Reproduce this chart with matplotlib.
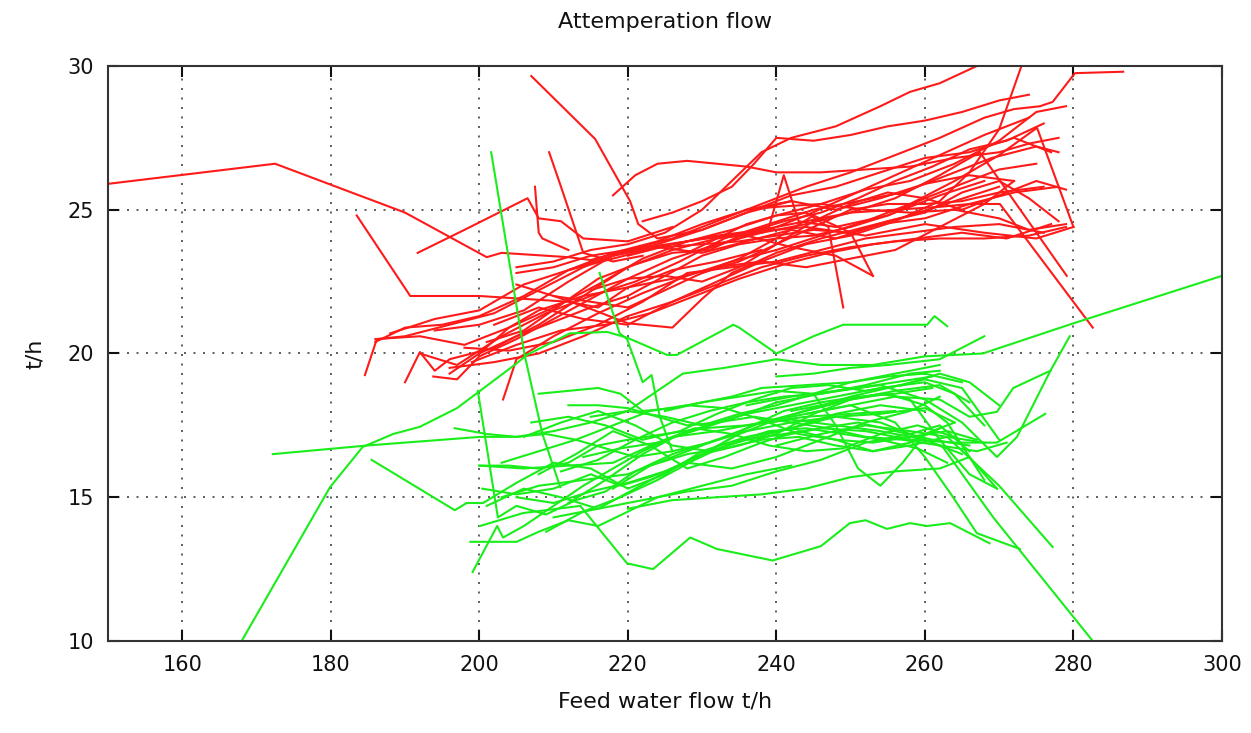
import matplotlib
matplotlib.use("Agg")
import matplotlib.pyplot as plt

# ---- data: attemperation flow vs feed water flow (t/h), one list per run ----
red_x = [
    [150, 172.5, 190, 201, 203, 212, 215, 220, 228, 236, 244, 252, 260, 268, 275, 280],
    [207, 215.6, 220.3, 221.4, 224, 230, 236, 242],
    [183.5, 190.7, 200, 206, 212, 216, 220, 226, 232, 238],
    [191.7, 198, 206.5, 208, 211, 214, 220, 226],
    [209.4, 211, 214, 218, 222],
    [207.5, 208, 208.5, 212],
    [186, 192, 198, 204, 210, 216, 222, 228, 234, 240, 246, 252, 258, 264, 270, 275, 279],
    [190, 192, 194, 196, 202, 208, 214, 220, 226, 232, 238, 244, 250, 256, 262, 268, 274],
    [192, 197, 203, 209, 215, 221, 227, 233, 239, 245, 251, 257, 263, 269, 275, 278],
    [194, 200, 206, 212, 218, 224, 230, 236, 242, 248, 254, 260, 266, 272, 277],
    [218, 221, 224, 228, 232, 236, 240, 246, 252, 258, 264, 270, 274, 278],
    [205, 210, 215, 220, 225, 230, 234, 238, 242, 248, 254, 258, 262, 267],
    [222, 226, 230, 234, 237, 240, 245, 250, 255, 260, 265, 270, 274],
    [196, 202, 208, 214, 220, 226, 232, 238, 244, 250, 256, 262, 268, 274, 279],
    [199, 205, 211, 217, 223, 229, 235, 241, 247, 253, 259, 265, 271, 277],
    [188, 194, 200, 206, 212, 218, 224, 230, 236, 242, 248, 254, 260, 266, 272, 278],
    [200, 205, 210, 215, 220, 225, 230, 235, 240, 245, 250, 255, 260, 265, 270, 275],
    [202, 208, 214, 220, 226, 232, 238, 244, 250, 256, 262, 266, 270, 273],
    [205, 210, 215, 220, 225, 230, 235, 240, 245, 250, 255, 260, 265, 270, 274, 278],
    [210, 215, 220, 225, 230, 235, 240, 245, 250, 255, 260, 265, 270, 276],
    [198, 204, 210, 216, 222, 228, 234, 240, 246, 252, 258, 264, 270, 276],
    [215, 220, 225, 230, 235, 240, 245, 250, 255, 260, 265, 270, 275, 279],
    [205, 210, 214.5, 220, 226, 230, 234, 240, 246, 252, 258, 264, 270],
    [196, 200, 204, 208, 214, 220, 226, 232, 238, 244, 250, 256, 262, 268, 272],
    [228, 232, 236, 240, 244, 247, 249],
    [230, 235, 240, 245, 250, 253],
    [236, 240, 246, 252, 258, 264, 270, 274, 279],
    [230, 235, 239, 241, 243, 248, 255, 262, 268],
    [184.6, 186.2, 190, 196, 202, 208, 214, 220, 226, 232, 238, 244, 250, 256, 262, 268, 272, 275.5, 277.2, 280.2, 286.7],
    [193.8, 197, 200, 205, 210, 215, 220, 226, 232, 238, 244, 250, 256, 262, 267.4, 279.1],
    [203.2, 205, 210, 216, 222, 228, 234, 240, 246, 252, 258, 264, 270, 275.1, 280],
    [220, 226, 232, 238, 244, 250, 256, 262, 266, 270.1, 282.6],
    [212, 218, 224, 230, 236, 242, 248, 253],
    [186, 190, 195, 200, 206, 212, 218, 224, 230, 236, 242, 248, 254, 260, 266, 272],
    [201, 206, 211, 216, 221, 226, 231, 236, 241, 246, 251, 256, 261, 266, 271, 276],
]
red_y = [
    [25.9, 26.6, 24.9, 23.35, 23.5, 23.35, 23.25, 23.6, 23.9, 24.2, 24.4, 24.1, 24.5, 24.2, 24.0, 24.4],
    [29.65, 27.46, 25.3, 24.5, 24.0, 24.3, 24.9, 25.3],
    [24.8, 22.0, 22.0, 21.9, 21.8, 21.6, 22.3, 22.9, 23.2, 23.6],
    [23.5, 24.3, 25.4, 24.7, 24.6, 24.0, 23.9, 24.4],
    [27.0, 25.8, 23.5, 23.2, 23.4],
    [25.8, 24.2, 24.0, 23.6],
    [20.5, 20.6, 20.3, 20.9, 21.6, 22.4, 23.3, 23.9, 24.3, 24.8, 25.2, 25.7, 26.0, 26.6, 27.4, 28.4, 28.6],
    [19.0, 20.05, 19.4, 19.8, 20.2, 21.0, 22.0, 23.0, 23.6, 24.0, 24.2, 24.8, 25.5, 26.2, 26.9, 27.6, 28.2],
    [20.0, 19.6, 20.6, 21.4, 22.0, 22.5, 23.2, 24.0, 24.5, 25.0, 25.3, 25.6, 26.2, 26.8, 27.2, 27.0],
    [20.8, 21.0, 21.5, 22.5, 23.4, 23.8, 24.3, 24.9, 25.5, 25.8, 26.3, 26.8, 27.0, 27.5, 27.0],
    [25.5, 26.2, 26.6, 26.7, 26.6, 26.5, 26.3, 26.3, 26.4, 26.5, 26.8, 27.0, 27.3, 27.5],
    [23.0, 23.2, 23.6, 23.8, 24.2, 25.0, 26.0, 27.0, 27.5, 27.9, 28.6, 29.1, 29.4, 30.0],
    [24.6, 24.9, 25.3, 25.8, 26.6, 27.5, 27.4, 27.6, 27.9, 28.1, 28.4, 28.8, 29.0],
    [19.5, 19.7, 20.0, 20.6, 21.3, 21.8, 22.4, 23.0, 23.4, 23.7, 23.9, 24.0, 24.0, 24.1, 24.4],
    [19.7, 20.3, 20.8, 21.0, 21.4, 22.0, 22.6, 23.1, 23.5, 23.8, 24.0, 24.2, 24.0, 24.5],
    [20.7, 21.2, 21.5, 22.4, 22.9, 23.4, 23.7, 23.5, 23.9, 24.3, 24.0, 24.5, 24.7, 25.2, 25.6, 25.8],
    [20.0, 20.6, 21.1, 21.6, 22.0, 22.7, 23.4, 23.8, 24.0, 24.1, 24.4, 24.8, 25.4, 25.9, 26.4, 26.6],
    [21.0, 21.6, 21.2, 21.0, 21.8, 22.5, 23.2, 23.8, 24.1, 24.6, 25.3, 26.3, 27.8, 30.0],
    [22.8, 23.0, 23.4, 23.6, 23.7, 23.8, 23.9, 24.1, 24.3, 24.2, 24.6, 24.9, 25.6, 26.0, 25.4, 24.6],
    [22.0, 21.8, 21.6, 22.2, 22.8, 23.2, 23.8, 24.4, 25.0, 25.2, 25.2, 25.3, 25.6, 25.8],
    [20.2, 20.1, 20.4, 21.0, 21.8, 22.8, 23.0, 23.2, 23.6, 24.0, 24.2, 24.4, 24.5, 24.2],
    [22.2, 22.6, 22.7, 22.5, 23.0, 23.8, 24.6, 25.2, 25.6, 25.4, 25.0, 25.5, 26.0, 25.7],
    [22.4, 22.0, 21.6, 21.05, 20.9, 21.9, 22.8, 23.5, 24.0, 24.4, 24.8, 25.3, 25.8],
    [19.3, 20.0, 20.9, 21.5, 22.0, 22.3, 22.6, 23.0, 23.2, 23.0, 23.3, 23.6, 24.4, 25.2, 26.0],
    [23.5, 24.0, 24.5, 24.8, 24.9, 24.4, 21.6],
    [22.8, 23.3, 24.0, 24.8, 24.2, 22.7],
    [25.0, 25.1, 25.2, 25.0, 24.9, 25.0, 24.7, 24.3, 24.5],
    [23.6, 24.0, 24.4, 26.2, 24.6, 24.4, 24.8, 25.5, 26.0],
    [19.25, 20.5, 20.6, 21.0, 21.4, 22.2, 23.0, 23.6, 24.0, 24.6, 25.2, 25.8, 26.3, 26.9, 27.5, 28.2, 28.5, 28.6, 28.75, 29.75, 29.8],
    [19.2, 19.1, 19.9, 20.5, 21.2, 21.9, 22.6, 23.3, 23.8, 24.2, 24.5, 24.9, 25.4, 26.2, 27.0, 22.7],
    [18.4, 19.8, 20.6, 21.4, 22.1, 22.7, 23.2, 23.6, 24.1, 24.6, 25.2, 26.0, 26.9, 27.85, 24.4],
    [23.4, 23.8, 24.1, 24.3, 24.6, 24.9, 25.0, 25.1, 25.2, 25.2, 20.9],
    [22.9, 23.3, 23.7, 24.0, 24.1, 23.7, 23.4, 22.7],
    [20.4, 20.9, 21.0, 21.3, 22.0, 22.9, 23.5, 23.9, 24.5, 25.0, 25.3, 25.0, 25.4, 25.9, 26.2, 26.0],
    [20.4, 20.8, 21.7, 22.6, 23.1, 23.5, 23.6, 24.2, 24.6, 24.9, 25.4, 26.0, 26.5, 27.1, 27.4, 28.0],
]

green_x = [
    [168, 179.9, 184.3, 188.4, 192, 197, 200.1, 205, 206.4, 212.2, 217.2, 219.9, 225.3, 226.6, 234.2, 235, 240, 245, 249, 256.7, 260.3, 261.3, 263],
    [172.2, 184.9, 200.1, 205, 210, 215, 220, 227.4, 233, 240, 246, 253, 260, 267.8, 280, 300],
    [201.6, 206.1, 208.5, 210.9],
    [216.2, 218.9, 219.9, 222.0, 223.2, 224.3, 226],
    [199.8, 202.5, 205, 209, 213, 217, 221, 226, 232],
    [185.5, 196.7, 198.3, 200.5, 205, 210, 215, 220, 225, 230, 236, 242, 248, 254, 260],
    [199.1, 202.4, 203.2, 206, 210, 214, 218, 222, 226, 232, 238, 244, 250, 256],
    [198.8, 205, 208, 212, 216, 220, 224, 230, 236, 242],
    [196.7, 201, 205, 209, 213, 217, 221, 226, 231, 236, 242, 248, 254, 260, 264],
    [200, 204, 208, 212, 216, 220, 225, 230, 236, 242, 248, 254, 260, 265],
    [200.4, 205, 210, 215, 219, 223, 228, 234, 240, 246, 252, 258, 262],
    [200.1, 205.9, 213.6, 219.9, 223.4, 228.4, 232, 239.5, 246, 249.9, 252, 254.9, 258, 260.3, 263.4, 268.7],
    [203, 208, 214, 220, 226, 232, 238, 244, 250, 256, 262, 266],
    [200, 206, 212, 218, 224, 230, 236, 242, 248, 254, 260, 264, 268],
    [205, 210, 215, 220, 225, 230, 235, 240, 245, 250, 255, 260, 265, 270],
    [207, 212, 217, 222, 227, 232, 237, 242, 247, 252, 257, 262, 266, 270],
    [210, 216, 222, 228, 234, 240, 246, 252, 258, 262, 266],
    [220, 226, 232, 238, 244, 250, 256, 262, 266, 269.7],
    [215, 220, 225, 230, 235, 240, 245, 250, 255, 260, 265],
    [206, 211, 216, 221, 226, 231, 236, 241, 246, 251, 256, 261, 266],
    [208, 213, 218, 223, 228, 233, 238, 243, 248, 253, 258, 263, 268],
    [212, 217, 222, 227, 232, 237, 242, 247, 252, 257, 262, 267, 271],
    [201, 206, 211, 216, 221, 226, 231, 236, 241, 246, 251, 256, 261],
    [214, 219, 224, 229, 234, 239, 244, 249, 254, 259, 264],
    [225, 230, 235, 240, 245, 248, 251, 254, 257, 260, 264],
    [230, 235, 240, 245, 250, 255, 260, 263, 266, 268],
    [209, 214, 219, 224, 229, 234, 239, 244, 249, 254, 259, 263],
    [203, 208, 213, 218, 223, 228, 233, 238, 243, 248, 253, 258, 263, 267],
    [211, 216, 221, 226, 231, 236, 241, 246, 251, 256, 261],
    [218, 223, 228, 233, 238, 243, 248, 253, 258, 262],
    [208, 212, 216, 219, 222, 226, 230, 234, 238, 244, 250, 256, 262],
    [212, 216, 220, 224, 228, 232, 236, 240, 246, 252, 258, 262],
    [236, 242, 248, 254, 258, 262.4, 269.2, 282.6],
    [240, 246, 252, 258, 263, 270, 277.2],
    [238, 244, 250, 256, 260, 263.4, 267, 272.8],
    [236, 242, 248, 254, 260, 265, 269.7, 272.4, 276.9, 279.5],
    [240, 246, 252, 258, 264, 269.7, 276.2],
    [242, 248, 254, 258, 262, 266, 269.7],
    [240, 245, 250, 255, 262, 268],
    [244, 250, 256, 262, 266, 269.7, 271.9, 276.9],
]
green_y = [
    [10.0, 15.35, 16.75, 17.2, 17.45, 18.1, 18.7, 19.65, 19.95, 20.7, 20.75, 20.55, 19.95, 19.95, 21.0, 20.9, 20.0, 20.6, 21.0, 21.0, 21.0, 21.3, 20.95],
    [16.5, 16.8, 17.1, 17.1, 17.3, 17.6, 18.0, 19.3, 19.5, 19.8, 19.6, 19.6, 19.9, 20.0, 21.05, 22.7],
    [27.0, 19.95, 17.2, 15.35],
    [22.8, 20.7, 20.5, 19.0, 19.25, 17.8, 16.6],
    [18.7, 14.3, 14.7, 14.4, 14.9, 15.2, 15.9, 16.5, 17.0],
    [16.3, 14.55, 14.8, 14.8, 15.5, 16.2, 16.0, 15.3, 15.8, 16.6, 17.1, 17.4, 17.9, 18.2, 18.0],
    [12.4, 14.0, 13.6, 14.0, 14.7, 15.4, 16.0, 16.6, 17.1, 17.3, 17.6, 17.8, 17.9, 18.0],
    [13.45, 13.45, 13.8, 14.2, 14.0, 14.5, 15.0, 15.4, 15.8, 16.1],
    [17.4, 17.2, 17.1, 17.2, 17.0, 16.7, 16.4, 16.6, 16.9, 17.3, 17.6, 17.8, 17.9, 18.1, 17.6],
    [16.1, 16.1, 16.0, 16.2, 16.8, 17.0, 17.2, 17.4, 17.5, 17.7, 17.5, 17.3, 17.0, 16.5],
    [15.3, 15.1, 15.3, 15.8, 15.4, 15.7, 16.2, 16.0, 16.4, 17.0, 17.6, 18.0, 18.5],
    [14.0, 14.45, 14.7, 12.7, 12.5, 13.6, 13.2, 12.8, 13.3, 14.1, 14.2, 13.9, 14.1, 14.0, 14.1, 13.4],
    [15.0, 15.4, 15.6, 15.8, 16.4, 17.0, 17.6, 18.0, 18.4, 18.7, 18.9, 18.3],
    [16.1, 16.0, 16.1, 16.2, 16.9, 17.4, 17.9, 18.2, 18.5, 18.8, 19.0, 18.6, 17.5],
    [15.0, 14.8, 15.2, 15.5, 15.9, 16.5, 17.2, 17.7, 18.1, 18.5, 18.8, 19.1, 18.8, 17.0],
    [17.6, 17.8, 17.5, 17.0, 17.3, 17.9, 18.4, 18.8, 18.9, 18.7, 18.9, 19.3, 19.0, 18.2],
    [14.3, 14.6, 14.9, 15.2, 15.4, 15.9, 16.3, 16.9, 17.2, 17.5, 16.6],
    [14.6, 14.9, 15.0, 15.1, 15.3, 15.7, 15.9, 16.0, 16.4, 15.3],
    [17.8, 18.0, 17.8, 17.5, 17.9, 18.2, 18.6, 19.0, 19.2, 19.3, 19.0],
    [17.1, 17.6, 18.0, 17.5, 16.8, 16.6, 17.0, 17.2, 17.4, 17.6, 17.3, 17.0, 16.8],
    [15.8, 16.5, 17.3, 16.8, 16.0, 16.4, 16.9, 17.3, 17.0, 16.6, 16.8, 17.1, 16.9],
    [14.8, 15.6, 16.5, 17.2, 17.6, 17.8, 17.6, 17.4, 17.1, 17.0, 16.8, 16.6, 16.9],
    [14.7, 15.3, 15.0, 14.6, 15.3, 16.0, 16.6, 17.4, 18.0, 18.3, 18.5, 18.6, 18.8],
    [16.4, 16.7, 16.9, 17.4, 17.2, 16.8, 16.6, 16.7, 17.2, 17.5, 17.1],
    [18.0, 18.3, 18.5, 18.7, 18.6, 17.5, 16.0, 15.4, 16.2, 17.2, 17.6],
    [16.5, 16.8, 17.2, 17.9, 18.4, 18.6, 18.2, 17.6, 16.4, 15.6],
    [13.8, 14.5, 15.0, 15.6, 16.3, 16.9, 17.3, 17.4, 17.2, 17.0, 16.7, 16.2],
    [16.2, 16.6, 17.0, 17.5, 18.0, 18.2, 18.1, 17.7, 17.2, 17.0, 16.9, 17.1, 17.3, 17.0],
    [15.9, 16.3, 17.0, 17.6, 18.0, 18.3, 18.5, 18.6, 18.8, 19.0, 19.2],
    [15.3, 16.1, 16.5, 16.7, 17.0, 17.1, 16.8, 16.6, 16.9, 17.4],
    [18.6, 18.7, 18.8, 18.6, 18.0, 18.1, 18.3, 18.5, 18.8, 18.9, 19.0, 19.3, 19.6],
    [18.2, 18.2, 18.1, 17.8, 17.5, 17.6, 17.9, 18.3, 18.6, 18.9, 19.3, 19.4],
    [17.0, 17.4, 17.8, 17.6, 17.2, 16.75, 14.3, 10.0],
    [16.8, 17.2, 17.5, 17.3, 17.1, 15.4, 13.27],
    [17.6, 17.9, 18.2, 17.6, 16.4, 15.15, 13.75, 13.2],
    [18.2, 18.5, 18.7, 18.9, 18.4, 17.6, 16.4, 17.1, 19.4, 20.6],
    [17.1, 17.4, 17.3, 17.0, 16.9, 16.9, 17.9],
    [18.0, 18.3, 18.6, 18.4, 17.0, 15.8, 15.3],
    [19.2, 19.3, 19.5, 19.6, 19.8, 20.6],
    [17.9, 18.2, 18.5, 18.4, 17.8, 17.97, 18.8, 19.4],
]

x_ticks = [160, 180, 200, 220, 240, 260, 280, 300]
y_ticks = [10, 15, 20, 25, 30]

fig = plt.figure(figsize=(12.51, 7.33), dpi=100)
ax = fig.add_axes([0.0863, 0.1255, 0.8905, 0.7845])

for xs, ys in zip(red_x, red_y):
    ax.plot(xs, ys, color='#ff1a1a', lw=1.5, solid_joinstyle='round')
for xs, ys in zip(green_x, green_y):
    ax.plot(xs, ys, color='#1aee1a', lw=1.5, solid_joinstyle='round')

ax.set_xlim(150, 300)
ax.set_ylim(10, 30)
ax.set_xticks(x_ticks)
ax.set_yticks(y_ticks)
ax.grid(True, color='#444444', linestyle=(0, (1.2, 4.5)), linewidth=1.2)
ax.tick_params(direction='in', length=8, width=1.5, top=True, right=True,
               labelsize=15, pad=10, colors='#111111')
for s in ax.spines.values():
    s.set_linewidth(1.5)
    s.set_color('#333333')

ax.set_xlabel('Feed water flow t/h', fontsize=16, labelpad=12, color='#111111')
ax.set_ylabel('t/h', fontsize=16, labelpad=16, color='#111111')
ax.set_title('Attemperation flow', fontsize=16, pad=27, color='#111111')

plt.savefig("out.png", dpi=100)
